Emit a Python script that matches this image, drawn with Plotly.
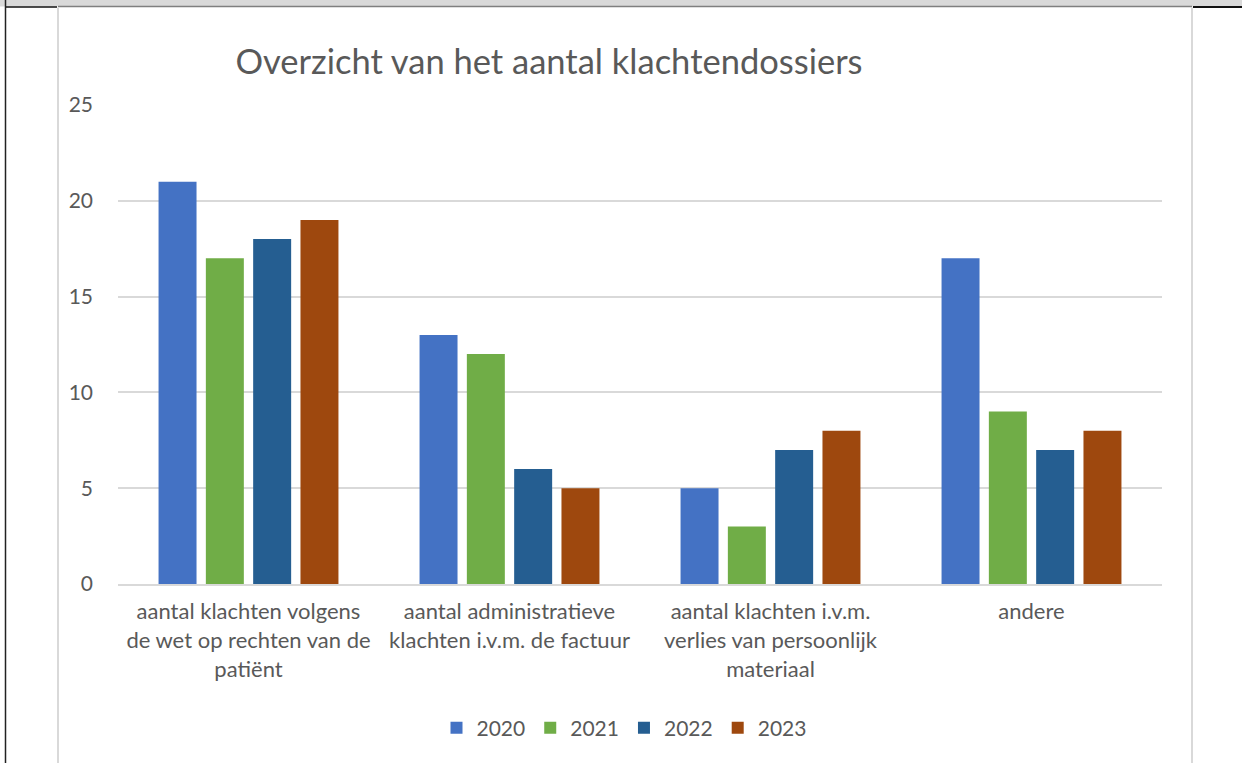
import plotly.graph_objects as go

categories = [
    "aantal klachten volgens<br>de wet op rechten van de<br>patiënt",
    "aantal administratieve<br>klachten i.v.m. de factuur",
    "aantal klachten i.v.m.<br>verlies van persoonlijk<br>materiaal",
    "andere",
]
years = ["2020", "2021", "2022", "2023"]
values_2020 = [21, 13, 5, 17]
values_2021 = [17, 12, 3, 9]
values_2022 = [18, 6, 7, 7]
values_2023 = [19, 5, 8, 8]
colors = ["#4472C4", "#70AD47", "#255E91", "#9E480E"]
y_ticks = [0, 5, 10, 15, 20, 25]

W, H = 1242, 763
L, R, T, B = 118, 1162, 105, 584

def px(x):
    return (x - L) / (R - L)

def py(y):
    return (B - y) / (B - T)

fig = go.Figure()
for name, vals, col in zip(years, [values_2020, values_2021, values_2022, values_2023], colors):
    fig.add_trace(go.Bar(x=categories, y=vals, name=name, marker=dict(color=col, line=dict(width=0))))

font_family = "Lato, 'Open Sans', sans-serif"
shapes = [
    # top gray band
    dict(type="rect", xref="paper", yref="paper", x0=px(0), x1=px(W), y0=py(0), y1=py(6.5),
         fillcolor="#d9d9d9", line=dict(width=0), layer="above"),
    dict(type="line", xref="paper", yref="paper", x0=px(58), x1=px(1192), y0=py(6.5), y1=py(6.5),
         line=dict(color="#7f7f7f", width=1.5)),
    dict(type="line", xref="paper", yref="paper", x0=px(6), x1=px(57), y0=py(7), y1=py(7),
         line=dict(color="#111111", width=1.5)),
    dict(type="line", xref="paper", yref="paper", x0=px(1193), x1=px(W), y0=py(7), y1=py(7),
         line=dict(color="#111111", width=2)),
    # left black line
    dict(type="line", xref="paper", yref="paper", x0=px(5.5), x1=px(5.5), y0=py(0), y1=py(H),
         line=dict(color="#222222", width=1.5)),
    # chart frame sides
    dict(type="line", xref="paper", yref="paper", x0=px(58), x1=px(58), y0=py(7.5), y1=py(H),
         line=dict(color="#d9d9d9", width=2)),
    dict(type="line", xref="paper", yref="paper", x0=px(1192), x1=px(1192), y0=py(7.5), y1=py(H),
         line=dict(color="#d9d9d9", width=2)),
]

fig.update_layout(
    width=W, height=H,
    margin=dict(l=L, r=W - R, t=T, b=H - B, pad=0),
    paper_bgcolor="white", plot_bgcolor="white",
    barmode="group", bargap=0.275, bargroupgap=0.197,
    title=dict(text="Overzicht van het aantal klachtendossiers", xref="paper", x=px(549), xanchor="center",
               yref="container", y=1 - 62 / H, yanchor="middle",
               font=dict(family=font_family, size=34.5, color="#595959")),
    font=dict(family=font_family, color="#595959", size=22),
    xaxis=dict(showgrid=False, showline=True, linecolor="#d9d9d9", linewidth=2,
               ticks="", tickfont=dict(size=22, color="#595959"), ticklabelstandoff=7),
    yaxis=dict(range=[0, 25], tickvals=y_ticks, showgrid=True, gridcolor="#d9d9d9", gridwidth=1.5,
               zeroline=False, showline=False, ticks="", ticklabelstandoff=24,
               tickfont=dict(size=21, color="#595959")),
    legend=dict(orientation="h", x=px(624), xanchor="center", y=py(728), yanchor="middle",
                font=dict(size=21, color="#595959"), traceorder="normal"),
    shapes=shapes,
    showlegend=True,
)

fig.write_html("out.html", config={"displayModeBar": False},
               post_script="document.body.style.margin='0';document.body.style.overflow='hidden';")
